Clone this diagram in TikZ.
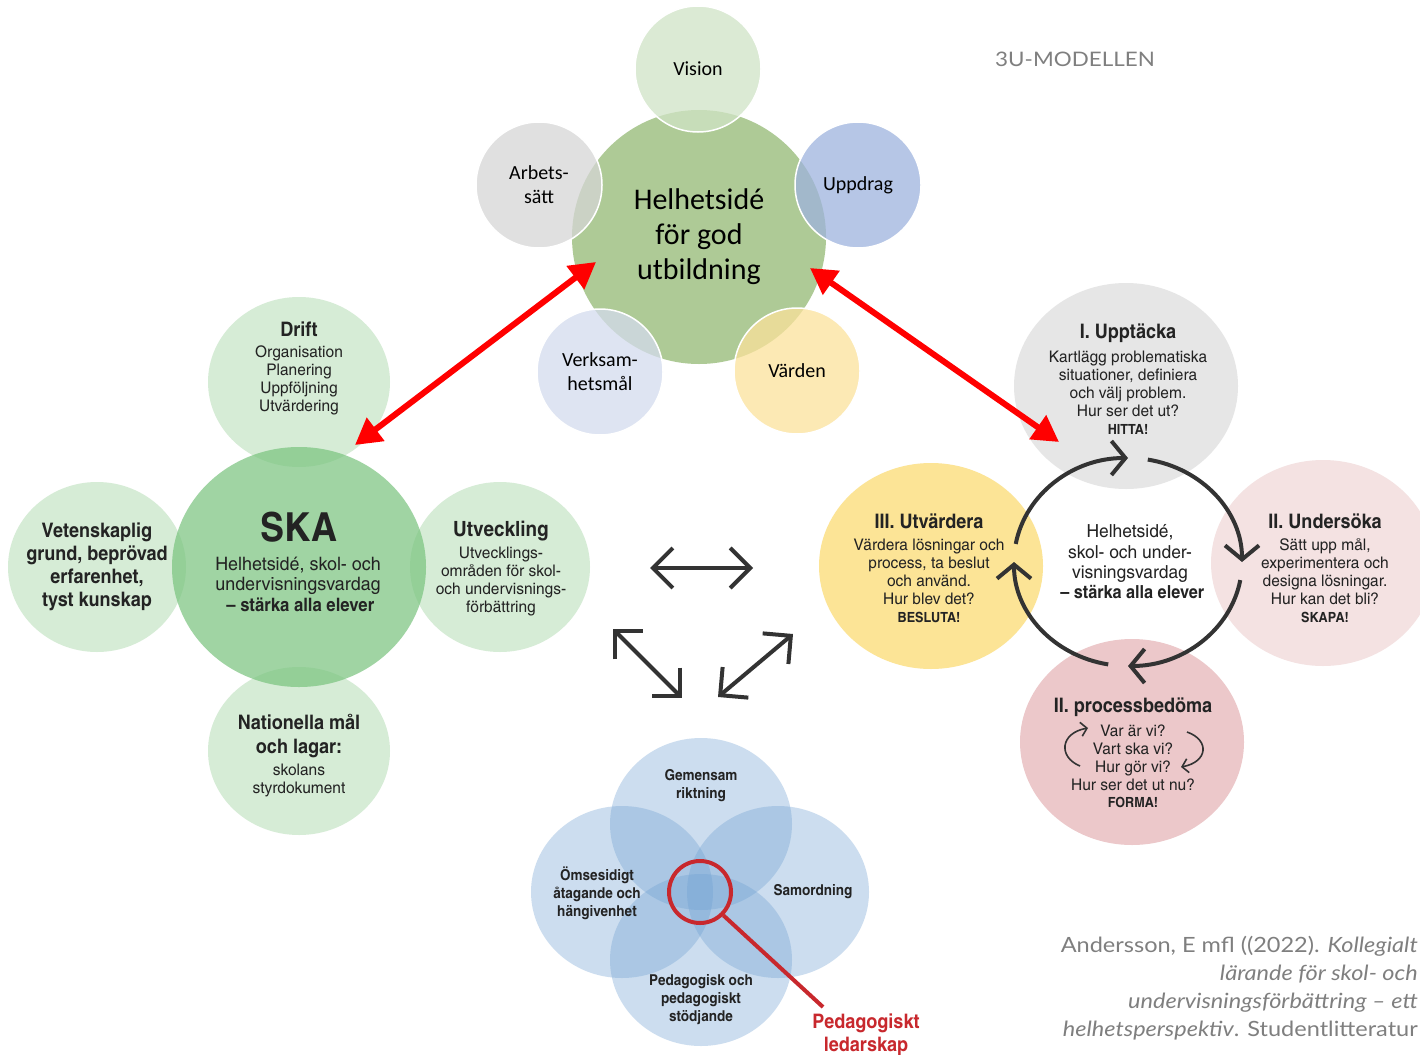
\documentclass[tikz,border=0pt]{standalone}
\usepackage{fontspec}
\setmainfont{Carlito}
\newfontfamily\cnd{texgyreheroscn}[Extension=.otf,UprightFont=*-regular,BoldFont=*-bold,ItalicFont=*-italic,BoldItalicFont=*-bolditalic,UprightFeatures={FakeStretch=1.18},BoldFeatures={FakeStretch=1.1}]
\newfontfamily\latof{Lato}[FakeStretch=1.12]
\usetikzlibrary{arrows.meta,calc,shapes.geometric}
\newcommand\setfs[2]{\fontsize{#1}{#2}\selectfont}
\definecolor{topGreen}{RGB}{174,202,150}
\definecolor{visC}{RGB}{208,228,198}
\definecolor{arbC}{RGB}{214,214,214}
\definecolor{uppC}{RGB}{158,179,222}
\definecolor{verkC}{RGB}{212,219,238}
\definecolor{vardC}{RGB}{251,226,155}
\definecolor{lsat}{RGB}{214,236,214}
\definecolor{skaC}{RGB}{120,195,125}
\definecolor{upptC}{RGB}{230,230,230}
\definecolor{underC}{RGB}{244,226,226}
\definecolor{utvC}{RGB}{252,228,150}
\definecolor{procC}{RGB}{236,200,202}
\definecolor{blueC}{RGB}{110,160,210}
\definecolor{txtC}{RGB}{35,35,35}
\definecolor{darkC}{RGB}{51,51,51}
\definecolor{redC}{RGB}{200,40,45}
\definecolor{grayT}{RGB}{127,127,127}
\tikzset{
  sat/.style={circle, minimum size=126pt, inner sep=0pt, draw=white, line width=1.5pt, fill opacity=0.75, text opacity=1, font=\setfs{20}{24}, align=center, text=black},
  gsat/.style={ellipse, fill=lsat, inner sep=0pt},
  rsat/.style={ellipse, minimum width=224pt, minimum height=206pt, inner sep=0pt},
  bsat/.style={ellipse, minimum width=182pt, minimum height=172pt, inner sep=0pt, fill=blueC, fill opacity=0.35},
  txt/.style={inner sep=0pt, align=center, text=txtC},
  ttl/.style={txt, font=\cnd\bfseries\setfs{20}{23}},
  body/.style={txt, font=\cnd\setfs{16}{18}},
  shout/.style={txt, font=\cnd\bfseries\setfs{14}{16}},
  bbody/.style={txt, font=\cnd\bfseries\setfs{15}{18}},
  redarrow/.style={draw=red, line width=6pt, {Triangle[length=26pt,width=28pt]}-{Triangle[length=26pt,width=28pt]}},
  loopline/.style={draw=darkC, line width=4pt, -{Straight Barb[length=14pt,width=34pt]}},
  carrow/.style={draw=darkC, line width=4pt, {Straight Barb[length=20pt,width=40pt]}-{Straight Barb[length=20pt,width=40pt]}},
  smallarrow/.style={draw=darkC, line width=1.6pt, -{Straight Barb[length=6pt,width=14pt]}}
}
\begin{document}
\begin{tikzpicture}[x=1pt,y=1pt]
\useasboundingbox (0,0) rectangle (1420,-1054);
\fill[white] (0,0) rectangle (1420,-1054);

% ---------- top cluster ----------
\node[circle, minimum size=254pt, inner sep=0pt, fill=topGreen, align=center, font=\setfs{30}{35}] (hel) at (699,-237) {Helhetsidé\\för god\\utbildning};
\node[sat, fill=visC] (vision) at (698,-69) {Vision};
\node[sat, fill=arbC] (arb) at (539,-185) {Arbets-\\sätt};
\node[sat, fill=uppC] (upp) at (858,-185) {Uppdrag};
\node[sat, fill=vardC] (vard) at (797,-371) {Värden};
\node[sat, fill=verkC] (verk) at (600,-372) {Verksam-\\hetsmål};

\node[inner sep=0pt, font=\latof\setfs{20}{24}, text=grayT] (model) at (1075,-59) {3U-MODELLEN};

% ---------- left cluster ----------
\node[gsat, minimum width=182pt, minimum height=170pt] (drift) at (299,-382) {};
\node[gsat, minimum width=178pt, minimum height=170pt] (vet) at (97,-567) {};
\node[gsat, minimum width=180pt, minimum height=170pt] (utv) at (500,-567) {};
\node[gsat, minimum width=182pt, minimum height=168pt] (nat) at (299,-751) {};
\node[ellipse, minimum width=254pt, minimum height=240pt, inner sep=0pt, fill=skaC, fill opacity=0.7] (ska) at (299,-567) {};

\node[ttl] (driftT) at (299,-329) {Drift};
\node[body] (driftB) at (299,-380) {Organisation\\Planering\\Uppföljning\\Utvärdering};
\node[txt, font=\cnd\bfseries\setfs{40}{44}] (skaT) at (299,-527) {SKA};
\node[txt, font=\cnd\setfs{18.5}{20.5}] (skaB) at (298,-584) {Helhetsidé, skol- och\\undervisningsvardag\\\bfseries\ – stärka alla elever};
\node[ttl] (vetT) at (97,-567) {Vetenskaplig\\grund, beprövad\\erfarenhet,\\tyst kunskap};
\node[txt, font=\cnd\bfseries\setfs{21}{24}] (utvT) at (501,-531) {Utveckling};
\node[body] (utvB) at (501,-582) {Utvecklings-\\områden för skol-\\och undervisnings-\\förbättring};
\node[txt, font=\cnd\bfseries\setfs{20}{24}] (natT) at (299,-736) {Nationella mål\\och lagar:};
\node[body] (natB) at (299,-780) {skolans\\styrdokument};

% ---------- right cluster ----------
\node[rsat, fill=upptC] (uppt) at (1126,-386) {};
\node[rsat, fill=underC] (under) at (1323,-563) {};
\node[rsat, fill=utvC] (utvard) at (931,-566) {};
\node[rsat, fill=procC] (proc) at (1132,-742) {};

\coordinate (lc) at (1128,-562);
\draw[loopline] ([shift={(170:114pt and 104pt)}]lc) arc[start angle=170, end angle=90, x radius=114pt, y radius=104pt];
\draw[loopline] ([shift={(80:114pt and 104pt)}]lc) arc[start angle=80, end angle=0, x radius=114pt, y radius=104pt];
\draw[loopline] ([shift={(-10:114pt and 104pt)}]lc) arc[start angle=-10, end angle=-90, x radius=114pt, y radius=104pt];
\draw[loopline] ([shift={(-100:114pt and 104pt)}]lc) arc[start angle=-100, end angle=-180, x radius=114pt, y radius=104pt];

\node[ttl] (upptT) at (1128,-333) {I. Upptäcka};
\node[body] (upptB) at (1128,-384) {Kartlägg problematiska\\situationer, definiera\\och välj problem.\\Hur ser det ut?};
\node[shout] (upptS) at (1128,-429) {HITTA!};

\node[ttl] (utvardT) at (929,-521) {III. Utvärdera};
\node[body] (utvardB) at (929,-572) {Värdera lösningar och\\process, ta beslut\\och använd.\\Hur blev det?};
\node[shout] (utvardS) at (929,-617) {BESLUTA!};

\node[ttl] (underT) at (1325,-521) {II. Undersöka};
\node[body] (underB) at (1325,-572) {Sätt upp mål,\\experimentera och\\designa lösningar.\\Hur kan det bli?};
\node[shout] (underS) at (1325,-617) {SKAPA!};

\node[txt, font=\cnd\setfs{18}{20.3}] (loopT) at (1130,-562) {Helhetsidé,\\skol- och under-\\visningsvardag\\\bfseries\ – stärka alla elever};

\node[ttl] (procT) at (1133,-707) {II. processbedöma};
\node[body] (procB) at (1133,-758) {Var är vi?\\Vart ska vi?\\Hur gör vi?\\Hur ser det ut nu?};
\node[shout] (procS) at (1133,-802) {FORMA!};
\coordinate (pa1) at (1080,-766);
\coordinate (pa2) at (1088,-728);
\coordinate (pb1) at (1187,-732);
\coordinate (pb2) at (1181,-767);
\draw[smallarrow] (pa1) .. controls (1058,-757) and (1060,-733) .. (pa2);
\draw[smallarrow] (pb1) .. controls (1210,-740) and (1208,-762) .. (pb2);

% ---------- red arrows ----------
\coordinate (ra1) at (596,-262);
\coordinate (ra2) at (355,-445);
\coordinate (rb1) at (810,-268);
\coordinate (rb2) at (1059,-442);
\draw[redarrow] (ra1) -- (ra2);
\draw[redarrow] (rb1) -- (rb2);

% ---------- centre arrows ----------
\coordinate (h1) at (650,-568);
\coordinate (h2) at (753,-568);
\coordinate (d1) at (613,-629);
\coordinate (d2) at (682,-698);
\coordinate (e1) at (793,-634);
\coordinate (e2) at (718,-697);
\draw[carrow] (h1) -- (h2);
\draw[carrow] (d1) -- (d2);
\draw[carrow] (e1) -- (e2);

% ---------- bottom cluster ----------
\node[bsat] (gem) at (701,-824) {};
\node[bsat] (oms) at (622,-892) {};
\node[bsat] (sam) at (778,-892) {};
\node[bsat] (ped) at (701,-960) {};
\node[bbody] (gemT) at (701,-786) {Gemensam\\riktning};
\node[bbody] (omsT) at (597,-893) {Ömsesidigt\\åtagande och\\hängivenhet};
\node[bbody] (samT) at (813,-892) {Samordning};
\node[bbody] (pedT) at (701,-1000) {Pedagogisk och\\pedagogiskt\\stödjande};
\node[circle, draw=redC, line width=4pt, minimum size=62pt, inner sep=0pt] (lens) at (700,-892) {};
\node[txt, text=redC, font=\cnd\bfseries\setfs{20}{23}] (ledT) at (866,-1035) {Pedagogiskt\\ledarskap};
\coordinate (lensEnd) at (823,-1007);
\draw[redC, line width=4pt] (lens.-45) -- (lensEnd);

% ---------- citation ----------
\node[anchor=east, inner sep=0pt, align=right, text=grayT, font=\latof\setfs{21}{28}] (cite) at (1418,-988) {Andersson, E mfl ((2022). \textit{Kollegialt}\\\textit{lärande för skol- och}\\\textit{undervisningsförbättring – ett}\\\textit{helhetsperspektiv}. Studentlitteratur};
\end{tikzpicture}
\end{document}
